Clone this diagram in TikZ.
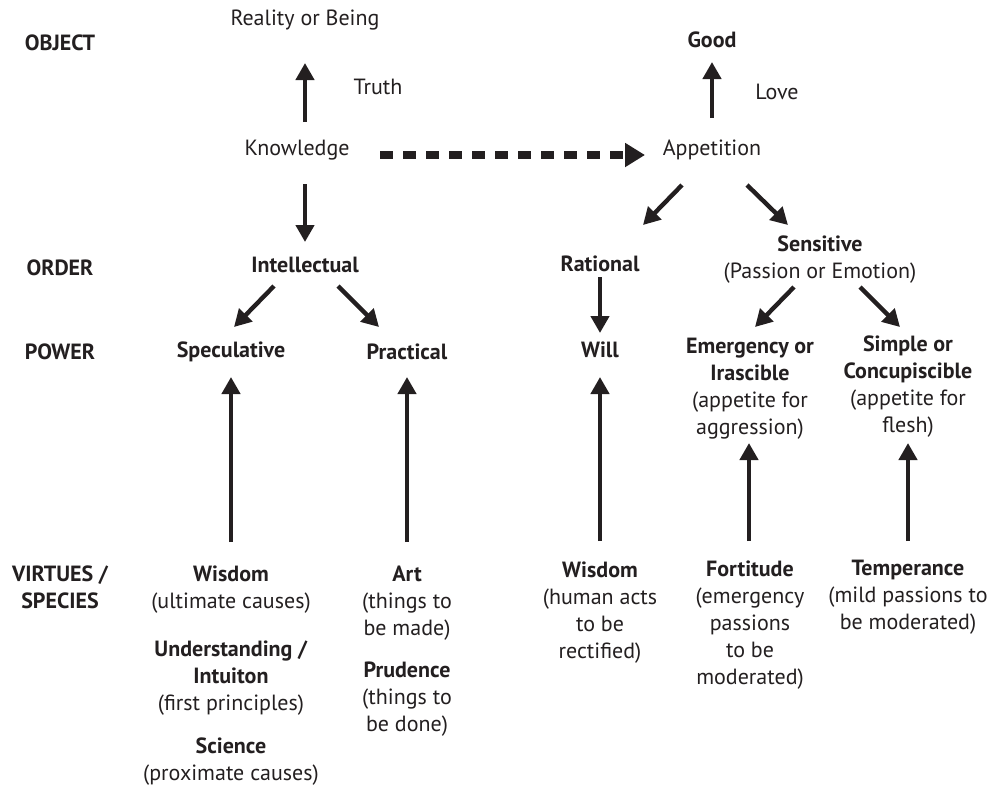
\documentclass[tikz,border=0pt]{standalone}
\usepackage{fontspec}
\setmainfont{PT Sans}
\usepackage{tikz}
\usetikzlibrary{calc,arrows.meta}
\definecolor{InkColor}{RGB}{35,31,32}

\tikzset{
  every node/.style={inner sep=0pt, text=InkColor, align=center, font=\fontsize{11}{13.5}\selectfont},
  rowlabel/.style={font=\fontsize{11}{13.5}\selectfont\bfseries},
  head/.style={font=\fontsize{11}{13.5}\selectfont\bfseries},
  arr/.style={-{Triangle[length=8.5pt,width=9pt]}, line width=2.2pt, draw=InkColor},
  dasharr/.style={-{Triangle[length=10pt,width=11.5pt]}, line width=4pt, draw=InkColor, dash pattern=on 6.5pt off 5pt}
}

\begin{document}
\begin{tikzpicture}[x=0.5pt,y=-0.5pt]
  \useasboundingbox (0,0) rectangle (992,784);

  % row labels
  \node[rowlabel] (object) at (60,43) {OBJECT};
  \node[rowlabel] (order) at (60,268) {ORDER};
  \node[rowlabel] (power) at (60,352) {POWER};
  \node[rowlabel] (virtues) at (60,587) {VIRTUES /\\SPECIES};

  % knowledge side
  \node (reality) at (305,20) {Reality or Being};
  \node (truth) at (378,87) {Truth};
  \node (knowledge) at (297,150) {Knowledge};
  \node[head] (intellectual) at (305,265) {Intellectual};
  \node[head] (speculative) at (231,352) {Speculative};
  \node[head] (practical) at (407,352) {Practical};
  \node (wisdomA) at (231,590) {\textbf{Wisdom}\\(ultimate causes)};
  \node (understanding) at (231,678) {\textbf{Understanding /}\\\textbf{Intuiton}\\(first principles)};
  \node (science) at (231,762) {\textbf{Science}\\(proximate causes)};
  \node (art) at (407,603.5) {\textbf{Art}\\(things to\\be made)};
  \node (prudence) at (407,699) {\textbf{Prudence}\\(things to\\be done)};

  % appetition side
  \node[head] (good) at (712,40) {Good};
  \node (love) at (777,92) {Love};
  \node (appetition) at (712,150) {Appetition};
  \node[head] (rational) at (600,264) {Rational};
  \node[head] (will) at (600,350) {Will};
  \node (sensitive) at (820,260) {\textbf{Sensitive}\\(Passion or Emotion)};
  \node (emergency) at (750,389) {\textbf{Emergency or}\\\textbf{Irascible}\\(appetite for\\aggression)};
  \node (simple) at (908,387) {\textbf{Simple or}\\\textbf{Concupiscible}\\(appetite for\\flesh)};
  \node (wisdomB) at (600,613) {\textbf{Wisdom}\\(human acts\\to be\\rectified)};
  \node (fortitude) at (750,625.5) {\textbf{Fortitude}\\(emergency\\passions\\to be\\moderated)};
  \node (temperance) at (908,597.5) {\textbf{Temperance}\\(mild passions to\\be moderated)};

  % arrows
  \draw[arr] ($(knowledge)+(8,-28)$) -- ($(reality)+(0,43)$);
  \draw[arr] ($(appetition)+(0,-32)$) -- ($(good)+(0,22)$);
  \draw[dasharr] ($(knowledge)+(83,5)$) -- ($(appetition)+(-67,5)$);
  \draw[arr] ($(knowledge)+(8,34)$) -- ($(intellectual)+(0,-23)$);
  \draw[arr] ($(intellectual)+(-31,21)$) -- ($(speculative)+(3,-25)$);
  \draw[arr] ($(intellectual)+(33,21)$) -- ($(practical)+(-28,-25)$);
  \draw[arr] ($(appetition)+(-30,35)$) -- ($(rational)+(43,-39)$);
  \draw[arr] ($(appetition)+(35,35)$) -- ($(sensitive)+(-32,-35)$);
  \draw[arr] ($(rational)+(0,13)$) -- ($(will)+(0,-17)$);
  \draw[arr] ($(sensitive)+(-26,27)$) -- ($(emergency)+(5,-62)$);
  \draw[arr] ($(sensitive)+(40,27)$) -- ($(simple)+(-8,-60)$);

  % virtues up to powers
  \draw[arr] ($(wisdomA)+(0,-48)$) -- ($(speculative)+(0,25)$);
  \draw[arr] ($(art)+(0,-61.5)$) -- ($(practical)+(0,25)$);
  \draw[arr] ($(wisdomB)+(0,-72)$) -- ($(will)+(0,27)$);
  \draw[arr] ($(fortitude)+(-1,-84.5)$) -- ($(emergency)+(-1,54)$);
  \draw[arr] ($(temperance)+(0,-56.5)$) -- ($(simple)+(0,56)$);

\end{tikzpicture}
\end{document}
